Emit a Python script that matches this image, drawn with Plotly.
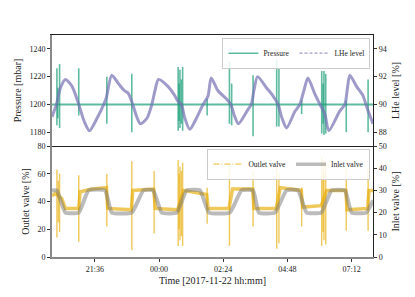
import pandas as pd
import plotly.graph_objects as go

# ---------------- data ----------------
lhe_time = ["20:00","20:10","20:19","20:30","20:45","21:00","21:12","21:24","21:41","21:56","22:02","22:14","22:29","22:42","22:51","23:01","23:09","23:18","23:33","23:44","23:51","23:59","00:20","00:34","00:43","00:50","00:58","01:09","01:24","01:39","01:50","01:57","02:12","02:31","02:41","02:49","02:58","03:19","03:27","03:33","03:41","04:01","04:16","04:27","04:36","04:46","05:05","05:16","05:25","05:34","05:49","06:01","06:12","06:21","06:45","06:57","07:02","07:08","07:23","07:38","07:45","08:00"]
lhe_level = [89.1,90.0,91.2,91.8,91.3,90.0,88.8,88.1,89.0,90.0,90.5,92.1,91.5,91.0,90.8,90.0,89.2,88.6,89.0,90.0,91.0,91.8,91.3,90.7,90.2,90.0,89.0,88.2,89.0,90.0,90.6,91.9,91.0,90.4,90.0,89.2,88.6,89.6,90.0,91.0,92.0,91.2,90.6,90.0,89.0,88.3,89.5,90.0,91.0,91.9,90.8,90.0,89.3,88.1,89.5,90.0,91.0,92.1,91.3,90.6,89.9,88.6]

pressure_time = ["20:00","08:00"]
pressure_value = [1200,1200]
pressure_spike_time = ["20:11","20:13","20:17","21:00","22:03","22:59","00:43","00:45","00:47","00:50","00:53","01:48","02:38","02:43","03:31","04:24","04:29","05:20","06:05","06:08","06:10","06:14","07:00","07:49"]
pressure_spike_max = [1226,1212,1229,1226,1220,1222,1227,1215,1225,1218,1227,1204,1231,1215,1221,1232,1226,1203,1224,1215,1224,1222,1203,1218]
pressure_spike_min = [1185,1190,1183,1192,1186,1180,1181,1188,1183,1186,1181,1192,1186,1185,1177,1184,1184,1193,1179,1186,1178,1179,1180,1180]

outlet_time = ["20:00","20:08","20:22","20:30","21:00","21:03","21:30","22:02","22:05","22:58","23:01","23:48","23:52","00:42","00:55","01:47","01:50","02:37","02:45","03:30","03:33","04:23","04:32","05:19","05:22","06:04","06:16","06:59","07:02","07:48","07:51","08:00"]
outlet_value = [44,46,42,35,35,47,49,50,35,34,48,49,35,34,48,45,35,35,49,49,35,35,50,48,36,37,48,48,34,35,48,48]
outlet_spike_time = ["20:11","20:14","20:17","21:00","22:03","22:59","23:49","00:43","00:45","00:47","00:50","00:53","01:48","02:38","03:31","04:24","04:29","05:20","06:05","06:08","06:10","06:14","07:00","07:49"]
outlet_spike_max = [63,55,60,59,60,69,62,70,60,65,62,68,50,67,62,66,60,50,72,62,70,68,64,64]
outlet_spike_min = [14,25,18,11,22,5,17,8,20,12,15,8,24,8,22,6,10,22,8,18,12,9,19,19]

inlet_time = ["20:00","20:11","20:30","21:00","21:22","21:59","22:14","22:59","23:25","23:47","00:06","00:40","01:02","01:32","01:52","02:39","03:05","03:31","03:44","04:20","04:46","05:12","05:31","06:04","06:27","06:57","07:12","07:45","08:00"]
inlet_value = [30,30,20,20,30,30,20,20,30,30,20,20,30,30,20,20,30,30,20,20,30,30,20,20,30,30,20,20,25.5]

x_ticks = ["21:36","00:00","02:24","04:48","07:12"]
x_start, x_end = "20:00", "08:00"


def ts(hhmm):
    h = int(hhmm.split(":")[0])
    day = "2017-11-21" if h >= 20 else "2017-11-22"
    return pd.Timestamp(f"{day} {hhmm}")


def spikes(times, hi, lo):
    xs, ys = [], []
    for t, a, b in zip(times, hi, lo):
        xs += [ts(t), ts(t), None]
        ys += [a, b, None]
    return xs, ys


C_GREEN = "rgba(27,158,119,0.7)"
C_PURPLE = "rgba(117,112,179,0.7)"
C_YELLOW = "rgba(230,171,2,0.65)"
C_GRAY = "rgba(120,120,120,0.5)"
FONT = "Liberation Serif"

fig = go.Figure()

# ---- top panel ----
fig.add_trace(go.Scatter(x=[ts(t) for t in pressure_time], y=pressure_value, mode="lines",
                         line=dict(color=C_GREEN, width=2), xaxis="x", yaxis="y",
                         showlegend=False, hoverinfo="skip"))
sx, sy = spikes(pressure_spike_time, pressure_spike_max, pressure_spike_min)
fig.add_trace(go.Scatter(x=sx, y=sy, mode="lines", line=dict(color=C_GREEN, width=1.6),
                         xaxis="x", yaxis="y", showlegend=False, hoverinfo="skip"))
fig.add_trace(go.Scatter(x=[ts(t) for t in lhe_time], y=lhe_level, mode="lines",
                         line=dict(color=C_PURPLE, width=3, shape="spline", smoothing=0.7),
                         xaxis="x", yaxis="y2", showlegend=False, hoverinfo="skip"))
fig.add_trace(go.Scatter(x=[None], y=[None], mode="lines", name="Pressure",
                         line=dict(color=C_GREEN, width=1.5), xaxis="x", yaxis="y", legend="legend"))
fig.add_trace(go.Scatter(x=[None], y=[None], mode="lines", name="LHe level",
                         line=dict(color=C_PURPLE, width=1.2, dash="3px,2px"), xaxis="x", yaxis="y2",
                         legend="legend"))

# ---- bottom panel ----
fig.add_trace(go.Scatter(x=[ts(t) for t in outlet_time], y=outlet_value, mode="lines",
                         line=dict(color=C_YELLOW, width=3.5), xaxis="x2", yaxis="y3",
                         showlegend=False, hoverinfo="skip"))
ox, oy = spikes(outlet_spike_time, outlet_spike_max, outlet_spike_min)
fig.add_trace(go.Scatter(x=ox, y=oy, mode="lines", line=dict(color=C_YELLOW, width=1.4),
                         xaxis="x2", yaxis="y3", showlegend=False, hoverinfo="skip"))
fig.add_trace(go.Scatter(x=[ts(t) for t in inlet_time], y=inlet_value, mode="lines",
                         line=dict(color=C_GRAY, width=4, shape="spline", smoothing=0.4),
                         xaxis="x2", yaxis="y4", showlegend=False, hoverinfo="skip"))
fig.add_trace(go.Scatter(x=[None], y=[None], mode="lines", name="Outlet valve",
                         line=dict(color=C_YELLOW, width=1.3, dash="6px,2px,1px,2px"),
                         xaxis="x2", yaxis="y3", legend="legend2"))
fig.add_trace(go.Scatter(x=[None], y=[None], mode="lines", name="Inlet valve",
                         line=dict(color=C_GRAY, width=3.5), xaxis="x2", yaxis="y4",
                         legend="legend2"))

tickfont = dict(family=FONT, size=8, color="#222")
titlefont = dict(family=FONT, size=10, color="#222")
xr = [ts(x_start), ts(x_end)]
tv = [ts(t) for t in x_ticks]

common_y = dict(ticks="outside", ticklen=3, tickwidth=1, tickcolor="#333",
                showgrid=False, zeroline=False, tickfont=tickfont, showline=True)

legend_style = dict(orientation="h", x=0.992, xanchor="right", yanchor="top",
                    bgcolor="rgba(255,255,255,0.85)", bordercolor="#ccc", borderwidth=1,
                    font=dict(family=FONT, size=7.5, color="#222"), itemwidth=30,
                    tracegroupgap=0)

fig.update_layout(
    width=415, height=297,
    margin=dict(l=52, r=42, t=35, b=38),
    paper_bgcolor="white", plot_bgcolor="white",
    font=dict(family=FONT, color="#222"),
    xaxis=dict(domain=[0, 1], anchor="y", range=xr, showticklabels=False, showgrid=False,
               zeroline=False, showline=True, mirror=True, linecolor="#222", linewidth=1.2,
               ticks="", tickvals=tv),
    yaxis=dict(domain=[0.5, 1], anchor="x", range=[1170, 1250], tickvals=[1180, 1200, 1220, 1240],
               linecolor="#888", linewidth=2,
               title=dict(text="Pressure [mbar]", font=titlefont, standoff=6), **common_y),
    yaxis2=dict(overlaying="y", anchor="x", side="right", range=[87, 95], tickvals=[88, 90, 92, 94],
                linecolor="#222", linewidth=1.2,
                title=dict(text="LHe level [%]", font=titlefont, standoff=6), **common_y),
    xaxis2=dict(domain=[0, 1], anchor="y3", range=xr, tickvals=tv, ticktext=x_ticks,
                showgrid=False, zeroline=False, showline=True, linecolor="#888", linewidth=2,
                ticks="outside", ticklen=3, tickcolor="#333", tickfont=tickfont,
                title=dict(text="Time [2017-11-22 hh:mm]", font=titlefont, standoff=4)),
    yaxis3=dict(domain=[0, 0.5], anchor="x2", range=[0, 80], tickvals=[0, 20, 40, 60, 80],
                linecolor="#888", linewidth=2,
                title=dict(text="Outlet valve [%]", font=titlefont, standoff=6), **common_y),
    yaxis4=dict(overlaying="y3", anchor="x2", side="right", range=[0, 50],
                tickvals=[0, 10, 20, 30, 40, 50], linecolor="#222", linewidth=1.2,
                title=dict(text="Inlet valve [%]", font=titlefont, standoff=6), **common_y),
    legend=dict(y=0.988, **legend_style),
    legend2=dict(y=0.488, **legend_style),
    showlegend=True,
)

fig.write_html("out.html", config={"displayModeBar": False},
               post_script="document.body.style.margin='0';")
